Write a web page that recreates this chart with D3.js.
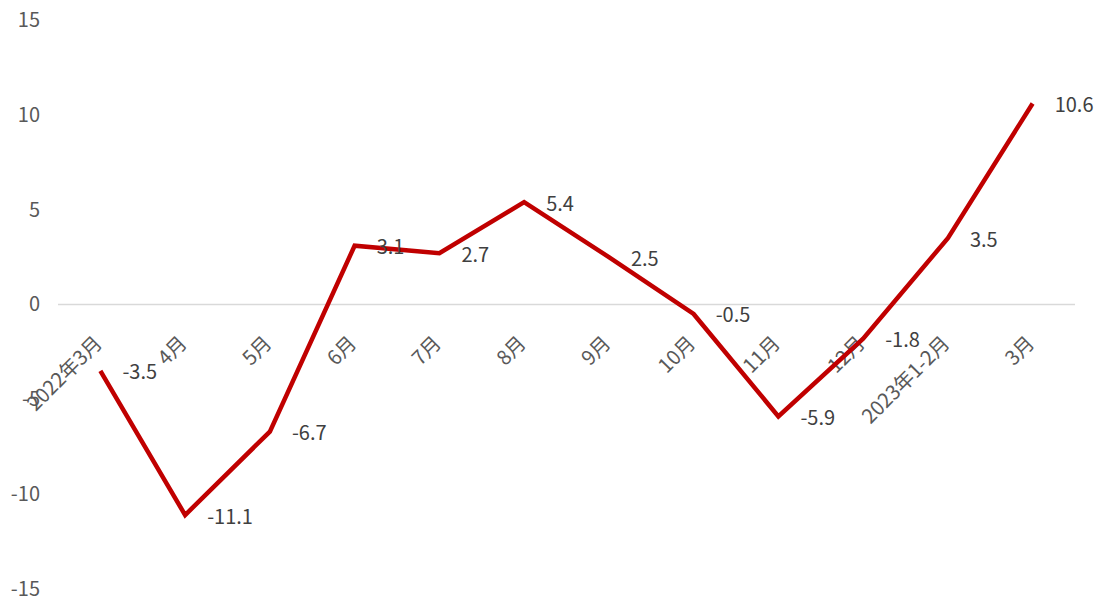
<!DOCTYPE html>
<html><head><meta charset="utf-8">
<script src="https://cdn.jsdelivr.net/npm/d3@7"></script>
<style>body{margin:0;background:#fff}svg{display:block}</style>
</head><body>
<svg id="c" width="1100" height="601"></svg>
<script>
const categories = ["2022年3月","4月","5月","6月","7月","8月","9月","10月","11月","12月","2023年1-2月","3月"];
const values = [-3.5,-11.1,-6.7,3.1,2.7,5.4,2.5,-0.5,-5.9,-1.8,3.5,10.6];
const yTicks = [15,10,5,0,-5,-10,-15];

const svg = d3.select("#c");
const font = "'Noto Sans CJK SC','Open Sans',sans-serif";
const x = d3.scaleBand().domain(categories).range([58,1075]);
const y = d3.scaleLinear().domain([-15,15]).range([589,20]);
const fmt = v => v.toFixed(1);

// zero line
svg.append("line").attr("x1",58).attr("x2",1075).attr("y1",y(0)).attr("y2",y(0))
  .attr("stroke","#d9d9d9").attr("stroke-width",1.3);

// y axis labels
const yAxis = d3.axisLeft(y).tickValues(yTicks).tickSize(0).tickPadding(0).tickFormat(d => String(d));
const ya = svg.append("g").attr("transform","translate(40,0)").call(yAxis);
ya.select(".domain").remove();
ya.selectAll("text").attr("font-family",font).attr("font-size",20).attr("fill","#595959");

// x axis labels
const cx = d => x(d) + x.bandwidth()/2;
svg.append("g").selectAll("text").data(categories).join("text")
  .attr("transform",d=>`translate(${cx(d)-3},${y(0)+34}) rotate(-45)`)
  .attr("text-anchor","end").attr("dominant-baseline","central")
  .attr("font-family",font).attr("font-size",20).attr("fill","#595959")
  .text(d=>d);

// line
const line = d3.line().x((d,i)=>cx(categories[i])).y(d=>y(d));
svg.append("path").datum(values).attr("d",line).attr("fill","none")
  .attr("stroke","#c00000").attr("stroke-width",4.5).attr("stroke-linejoin","miter");

// data labels
svg.append("g").selectAll("text").data(values).join("text")
  .attr("x",(d,i)=>cx(categories[i])+22).attr("y",d=>y(d))
  .attr("dominant-baseline","central")
  .attr("font-family",font).attr("font-size",20).attr("fill","#404040")
  .text(d=>fmt(d));
</script>
</body></html>
